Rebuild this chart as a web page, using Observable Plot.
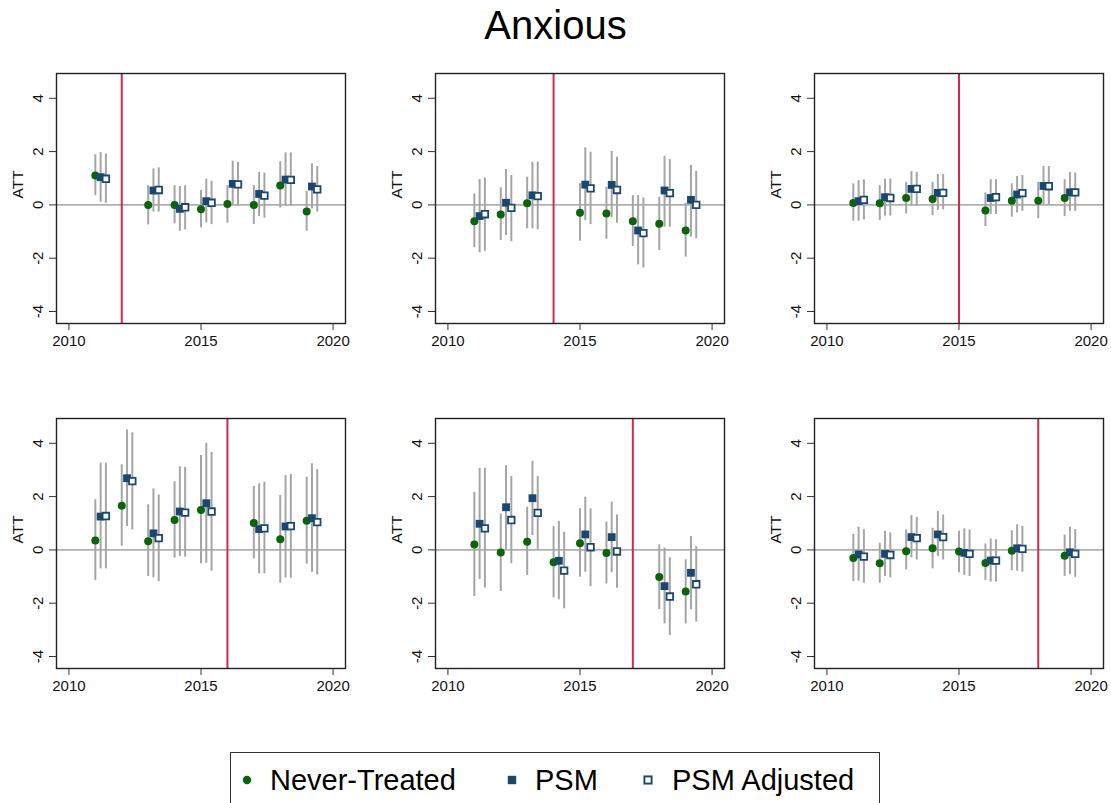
<!DOCTYPE html>
<html>
<head>
<meta charset="utf-8">
<script src="https://cdn.jsdelivr.net/npm/d3@7"></script>
<script src="https://cdn.jsdelivr.net/npm/@observablehq/plot@0.6"></script>
<style>
  html, body { margin: 0; padding: 0; background: #fff; }
  #wrap { position: relative; width: 1111px; height: 803px; overflow: hidden; background: #fff;
          font-family: Arial, "Liberation Sans", Helvetica, sans-serif; color: #000; }
  .panel { position: absolute; }
  #title { position: absolute; left: 0; top: 5px; width: 1111px; text-align: center;
           font-size: 40px; line-height: 40px; }
  #legendBox { position: absolute; left: 230px; top: 752px; width: 650px; height: 80px;
               border: 1.5px solid #333; box-sizing: border-box; }
  .lg { position: absolute; top: 766px; font-size: 29px; line-height: 29px; white-space: nowrap; }
  .sym { position: absolute; }
</style>
</head>
<body>
<div id="wrap">
  <div id="title">Anxious</div>
  <div id="legendBox"></div>
  <svg class="sym" style="left:241px;top:774px" width="12" height="12"><circle cx="6" cy="6" r="4.2" fill="#0a640a"/></svg>
  <div class="lg" style="left:270px">Never-Treated</div>
  <svg class="sym" style="left:506px;top:774px" width="12" height="12"><rect x="1.8" y="1.8" width="8.4" height="8.4" fill="#1a476f"/></svg>
  <div class="lg" style="left:535px">PSM</div>
  <svg class="sym" style="left:642px;top:774px" width="12" height="12"><rect x="2.4" y="2.4" width="7.2" height="7.2" fill="#fff" stroke="#1a476f" stroke-width="1.9"/></svg>
  <div class="lg" style="left:672px">PSM Adjusted</div>
</div>
<script>
// ---- data ----
const years = [2011, 2012, 2013, 2014, 2015, 2016, 2017, 2018, 2019];
const treatYears = [2012, 2014, 2015, 2016, 2017, 2018];
const xTicks = [2010, 2015, 2020];
const yTicks = [-4, -2, 0, 2, 4];
const seriesNames = ["Never-Treated", "PSM", "PSM Adjusted"];

// Never-Treated: estimate, lower, upper (one row per panel)
const ntEst = [
  [1.10, null, 0.00, 0.00, -0.16, 0.03, 0.00, 0.73, -0.25],
  [-0.61, -0.36, 0.06, null, -0.29, -0.32, -0.61, -0.71, -0.96],
  [0.07, 0.06, 0.26, 0.22, null, -0.21, 0.16, 0.16, 0.26],
  [0.35, 1.66, 0.32, 1.12, 1.50, null, 1.01, 0.40, 1.09],
  [0.20, -0.10, 0.31, -0.46, 0.25, -0.12, null, -1.02, -1.56],
  [-0.30, -0.50, -0.05, 0.06, -0.06, -0.49, -0.03, null, -0.22]
];
const ntLo = [
  [0.35, null, -0.75, -0.71, -0.86, -0.69, -0.74, -0.12, -0.99],
  [-1.61, -1.34, -0.90, null, -1.36, -1.29, -1.56, -1.71, -1.96],
  [-0.61, -0.59, -0.34, -0.40, null, -0.81, -0.46, -0.52, -0.44],
  [-1.15, 0.14, -1.00, -0.31, -0.52, null, -0.34, -1.25, -0.53],
  [-1.75, -1.56, -0.96, -1.80, -1.03, -1.28, null, -2.24, -2.78],
  [-1.19, -1.25, -0.75, -0.71, -0.86, -1.15, -0.78, null, -0.99]
];
const ntHi = [
  [1.88, null, 0.72, 0.72, 0.54, 0.72, 0.72, 1.62, 0.51],
  [0.41, 0.64, 1.04, null, 0.79, 0.66, 0.35, 0.29, 0.06],
  [0.79, 0.72, 0.85, 0.85, null, 0.45, 0.79, 0.85, 0.95],
  [1.88, 3.19, 1.69, 2.56, 3.54, null, 2.38, 2.04, 2.73],
  [2.16, 1.35, 1.60, 0.88, 1.54, 1.04, null, 0.19, -0.37],
  [0.58, 0.25, 0.75, 0.81, 0.70, 0.22, 0.72, null, 0.56]
];
// PSM
const psmEst = [
  [1.04, null, 0.54, -0.15, 0.14, 0.79, 0.41, 0.95, 0.69],
  [-0.42, 0.08, 0.36, null, 0.76, 0.75, -0.96, 0.54, 0.19],
  [0.14, 0.29, 0.60, 0.45, null, 0.26, 0.39, 0.71, 0.47],
  [1.25, 2.69, 0.62, 1.44, 1.75, null, 0.78, 0.88, 1.19],
  [0.98, 1.60, 1.94, -0.41, 0.58, 0.48, null, -1.36, -0.86],
  [-0.17, -0.15, 0.48, 0.58, -0.11, -0.40, 0.06, null, -0.09]
];
const psmLo = [
  [0.10, null, -0.27, -0.99, -0.67, -0.02, -0.44, -0.05, -0.15],
  [-1.80, -1.15, -0.90, null, -0.59, -0.49, -2.25, -0.84, -1.21],
  [-0.61, -0.42, -0.05, -0.21, null, -0.36, -0.30, -0.02, -0.24],
  [-0.71, 0.88, -1.05, -0.25, -0.50, null, -0.90, -1.05, -0.84],
  [-1.11, 0.00, 0.54, -1.87, -0.84, -0.86, null, -2.78, -2.25],
  [-1.17, -1.00, -0.30, -0.25, -0.96, -1.21, -0.80, null, -0.93]
];
const psmHi = [
  [1.97, null, 1.35, 0.69, 0.97, 1.64, 1.22, 1.95, 1.54],
  [0.95, 1.33, 1.60, null, 2.14, 2.01, 0.35, 1.82, 1.48],
  [0.91, 0.97, 1.25, 1.14, null, 0.95, 1.07, 1.44, 1.22],
  [3.25, 4.50, 2.29, 3.12, 4.00, null, 2.48, 2.79, 3.23],
  [3.06, 3.16, 3.33, 1.07, 1.98, 1.79, null, 0.07, 0.50],
  [0.85, 0.70, 1.29, 1.44, 0.79, 0.41, 0.94, null, 0.85]
];
// PSM Adjusted
const adjEst = [
  [0.98, null, 0.56, -0.09, 0.08, 0.77, 0.35, 0.94, 0.58],
  [-0.35, -0.11, 0.33, null, 0.62, 0.56, -1.06, 0.44, 0.00],
  [0.19, 0.26, 0.60, 0.45, null, 0.29, 0.44, 0.70, 0.47],
  [1.27, 2.58, 0.44, 1.40, 1.44, null, 0.81, 0.89, 1.04],
  [0.81, 1.12, 1.39, -0.78, 0.10, -0.06, null, -1.75, -1.29],
  [-0.25, -0.19, 0.44, 0.48, -0.15, -0.40, 0.04, null, -0.15]
];
const adjLo = [
  [0.06, null, -0.27, -0.94, -0.74, -0.05, -0.50, -0.06, -0.27],
  [-1.74, -1.38, -0.93, null, -0.74, -0.69, -2.37, -0.84, -1.27],
  [-0.56, -0.42, -0.05, -0.19, null, -0.36, -0.24, -0.02, -0.24],
  [-0.71, 0.75, -1.19, -0.27, -0.80, null, -0.90, -1.06, -0.94],
  [-1.43, -0.52, 0.00, -2.21, -1.38, -1.44, null, -3.21, -2.71],
  [-1.25, -1.05, -0.38, -0.38, -1.00, -1.21, -0.84, null, -1.03]
];
const adjHi = [
  [1.91, null, 1.39, 0.72, 0.89, 1.60, 1.19, 1.95, 1.44],
  [1.01, 1.10, 1.60, null, 1.98, 1.79, 0.26, 1.70, 1.26],
  [0.94, 0.97, 1.22, 1.14, null, 0.95, 1.10, 1.44, 1.20],
  [3.25, 4.39, 2.06, 3.10, 3.66, null, 2.54, 2.83, 3.01],
  [3.06, 2.75, 2.75, 0.66, 1.54, 1.31, null, -0.30, 0.12],
  [0.76, 0.64, 1.22, 1.31, 0.75, 0.38, 0.88, null, 0.76]
];

// ---- styling ----
const GREEN = "#0a640a", NAVY = "#1a476f", RED = "#d02a52", CI = "#a5a5a5";
const dodge = [0, 0.2, 0.4];
const colLeft = [0, 379, 758];
const rowTop = [60, 405];
const fontFam = 'Arial, "Liberation Sans", Helvetica, sans-serif';

const wrap = document.getElementById("wrap");

treatYears.forEach((ty, p) => {
  const sets = [[ntEst, ntLo, ntHi], [psmEst, psmLo, psmHi], [adjEst, adjLo, adjHi]];
  const bySeries = sets.map(([E, L, H], s) =>
    years.map((yr, i) => ({series: seriesNames[s], x: yr + dodge[s], est: E[p][i], lo: L[p][i], hi: H[p][i]}))
         .filter(d => d.est != null)
  );
  const all = bySeries.flat();

  const chart = Plot.plot({
    width: 353, height: 300,
    marginLeft: 56, marginRight: 8, marginTop: 13, marginBottom: 37,
    x: {domain: [2009.53, 2020.47]},
    y: {domain: [-4.45, 4.93]},
    style: {fontSize: "15px", fontFamily: fontFam, color: "#333", background: "white", overflow: "visible"},
    marks: [
      Plot.ruleY([0], {stroke: "#b0b0b0", strokeWidth: 1.6}),
      Plot.ruleX([ty], {stroke: RED, strokeWidth: 2}),
      Plot.ruleX(all, {x: "x", y1: "lo", y2: "hi", stroke: CI, strokeWidth: 2}),
      Plot.dot(bySeries[0], {x: "x", y: "est", r: 4.0, symbol: "circle", fill: GREEN}),
      Plot.dot(bySeries[1], {x: "x", y: "est", r: 4.4, symbol: "square", fill: NAVY}),
      Plot.dot(bySeries[2], {x: "x", y: "est", r: 3.7, symbol: "square", fill: "white", stroke: NAVY, strokeWidth: 1.8}),
      Plot.frame({stroke: "#222", strokeWidth: 1.4}),
      Plot.axisX({ticks: xTicks, tickSize: 7, tickPadding: 5, tickFormat: d => String(d), label: null, fill: "#111"}),
      Plot.axisY({ticks: yTicks, tickSize: 7, tickPadding: 7, tickRotate: -90, tickFormat: d => String(d), label: null, fill: "#111"}),
      Plot.text(["ATT"], {frameAnchor: "left", dx: -38, rotate: -90, fontSize: 15.5, fill: "#111"})
    ]
  });
  const div = document.createElement("div");
  div.className = "panel";
  div.style.left = colLeft[p % 3] + "px";
  div.style.top = rowTop[Math.floor(p / 3)] + "px";
  div.appendChild(chart);
  wrap.appendChild(div);
});
</script>
</body>
</html>
